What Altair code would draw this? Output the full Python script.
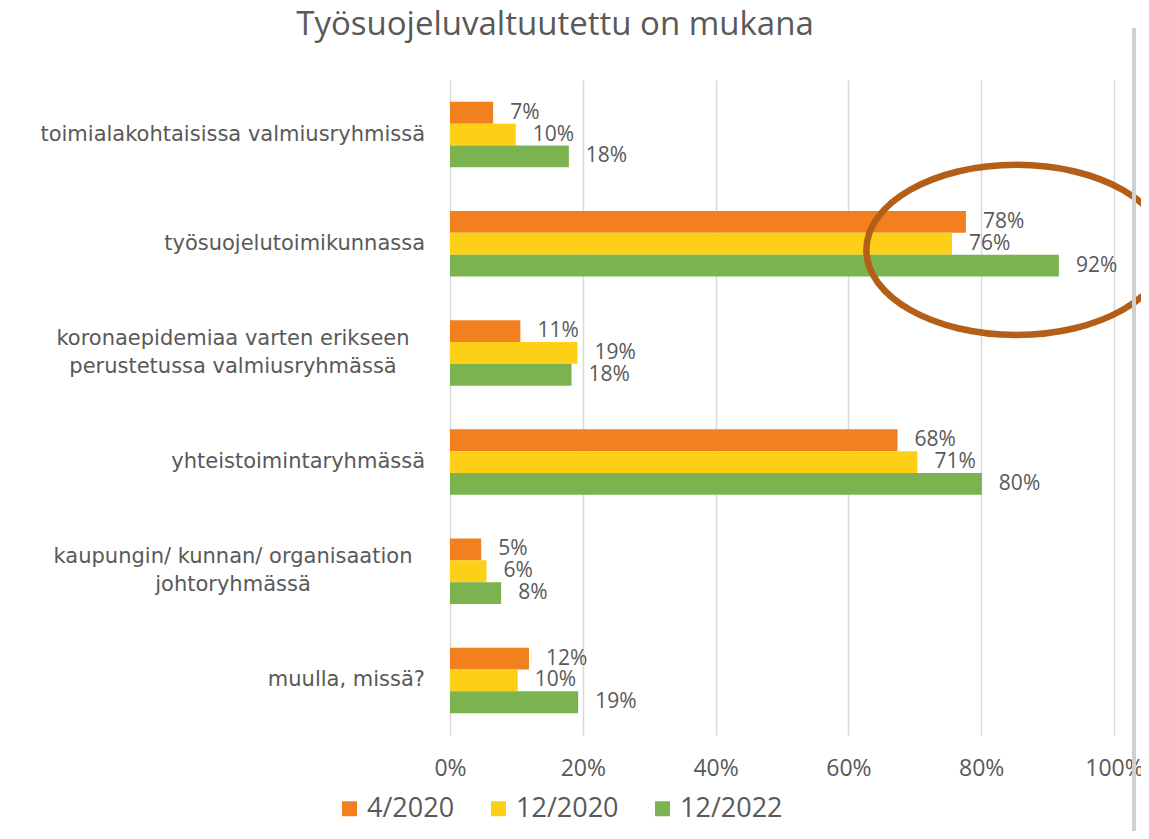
import altair as alt
import pandas as pd

categories = [
    "toimialakohtaisissa valmiusryhmissä",
    "työsuojelutoimikunnassa",
    "koronaepidemiaa varten erikseen\nperustetussa valmiusryhmässä",
    "yhteistoimintaryhmässä",
    "kaupungin/ kunnan/ organisaation\njohtoryhmässä",
    "muulla, missä?",
]
multiline = [False, False, True, False, True, False]
series = ["4/2020", "12/2020", "12/2022"]
colors = ["#F2801F", "#FDD017", "#7AB34F"]

values_2020_04 = [6.5, 77.7, 10.6, 67.4, 4.7, 11.9]
values_2020_12 = [9.9, 75.6, 19.2, 70.4, 5.5, 10.2]
values_2022_12 = [17.9, 91.7, 18.3, 80.1, 7.7, 19.3]
labels_2020_04 = ["7%", "78%", "11%", "68%", "5%", "12%"]
labels_2020_12 = ["10%", "76%", "19%", "71%", "6%", "10%"]
labels_2022_12 = ["18%", "92%", "18%", "80%", "8%", "19%"]

x_ticks = [0, 20, 40, 60, 80, 100]

# annotation ellipse (data coordinates)
ann_x = [85.3]
ann_cat = ["työsuojelutoimikunnassa"]

title_text = ["Työsuojeluvaltuutettu on mukana"]

rows = []
for s, vals, labs in zip(series,
                         [values_2020_04, values_2020_12, values_2022_12],
                         [labels_2020_04, labels_2020_12, labels_2022_12]):
    for c, v, l in zip(categories, vals, labs):
        rows.append({"cat": c, "series": s, "value": v, "label": l})
df = pd.DataFrame(rows)

cat_df = pd.DataFrame({"cat": categories, "multi": multiline})
ann_df = pd.DataFrame({"x": ann_x, "cat": ann_cat})
title_df = pd.DataFrame({"t": title_text})

FONT = "Open Sans"
LFONT = "DejaVu Sans"
GRAY = "#595959"

band_scale = alt.Scale(paddingInner=0.4, paddingOuter=0.2)
y_enc = alt.Y("cat:N", sort=categories, axis=None, scale=band_scale)
yoff_enc = alt.YOffset("series:N", sort=series,
                       scale=alt.Scale(paddingInner=0, paddingOuter=0))
x_enc = alt.X("value:Q",
              scale=alt.Scale(domain=[0, 100], nice=False),
              axis=alt.Axis(values=x_ticks, labelExpr="datum.value + '%'",
                            title=None, domain=False, ticks=False,
                            grid=True, gridColor="#D9D9D9", gridWidth=1.5,
                            labelFlush=False,
                            labelFont=FONT, labelFontSize=23, labelColor=GRAY,
                            labelPadding=22))

bars = alt.Chart(df).mark_bar(height={"band": 1}).encode(
    x=x_enc,
    y=y_enc,
    yOffset=yoff_enc,
    color=alt.Color("series:N", sort=series,
                    scale=alt.Scale(domain=series, range=colors),
                    legend=alt.Legend(title=None, orient="none", direction="horizontal",
                                      legendX=-114, legendY=715,
                                      symbolType="square", symbolSize=225,
                                      symbolStrokeWidth=0, labelOffset=4,
                                      columnPadding=30,
                                      labelFont=FONT, labelFontSize=27,
                                      labelColor=GRAY)),
)

texts = alt.Chart(df).mark_text(align="left", baseline="middle", dx=17,
                                font=FONT, fontSize=21, color=GRAY).encode(
    x="value:Q",
    y=y_enc,
    yOffset=yoff_enc,
    text="label:N",
)

single_labels = alt.Chart(cat_df).transform_filter("!datum.multi").mark_text(
    align="right", baseline="middle", font=LFONT, fontSize=21, color=GRAY
).encode(
    x=alt.value(-25),
    y=y_enc,
    text="cat:N",
)

multi_labels = alt.Chart(cat_df).transform_filter("datum.multi").mark_text(
    align="center", baseline="middle", font=LFONT, fontSize=21, color=GRAY,
    lineBreak="\n", lineHeight=28, dy=-14
).encode(
    x=alt.value(-217),
    y=y_enc,
    text="cat:N",
)

title = alt.Chart(title_df).mark_text(
    align="center", baseline="middle", font=FONT, fontSize=33, color=GRAY
).encode(
    x=alt.value(105), y=alt.value(-55), text="t:N"
)

ellipse = alt.Chart(ann_df).mark_point(
    shape="M -1 0.041 A 1 0.567 0 1 0 1 0.041 A 1 0.567 0 1 0 -1 0.041",
    filled=False, stroke="#B45F18", strokeWidth=6.5, size=90000, opacity=1
).encode(
    x="x:Q",
    y=y_enc,
)

edge_line = alt.Chart(ann_df).mark_rule(color="#D0D0D0", strokeWidth=4).encode(
    x=alt.value(684), y=alt.value(-52), y2=alt.value(760)
)

chart = alt.layer(bars, texts, single_labels, multi_labels, title, ellipse, edge_line).properties(
    width=664,
    height=655,
    autosize=alt.AutoSizeParams(type="none"),
    padding={"left": 442, "top": 72, "right": 27, "bottom": 96},
).configure_view(stroke=None)

chart.save("out.html", embed_options={"renderer": "svg", "actions": False})
